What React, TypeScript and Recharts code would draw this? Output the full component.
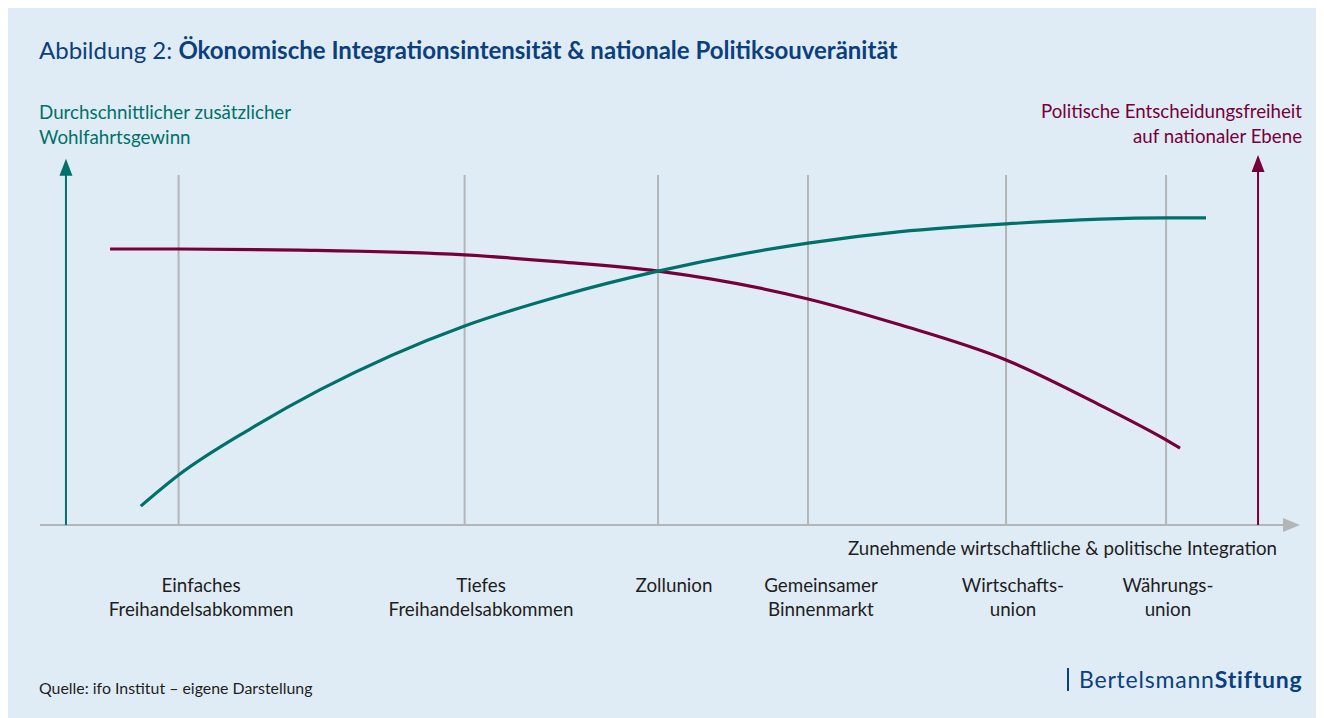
import React from "react";
import { ComposedChart, Line, XAxis, YAxis, ReferenceLine } from "recharts";

// x: integration intensity (0–100), y: level (0–100)
const stagePositions = [11.0, 33.7, 49.05, 60.95, 76.67, 89.37];
const stageLabelPositions = [12.78, 35.0, 50.32, 61.98, 77.22, 89.52];
const stageLabels = [
  "Einfaches\nFreihandelsabkommen",
  "Tiefes\nFreihandelsabkommen",
  "Zollunion",
  "Gemeinsamer\nBinnenmarkt",
  "Wirtschafts-\nunion",
  "Währungs-\nunion",
];

const welfareX = [8.0, 11.0, 16.7, 22.2, 33.7, 41.3, 49.05, 60.95, 68.3, 76.67, 89.37, 92.54];
const welfareY = [5.1, 13.5, 26.0, 36.5, 53.8, 61.9, 68.6, 76.2, 79.3, 81.4, 83.0, 83.0];

const freedomX = [5.56, 11.0, 20.6, 33.7, 41.3, 49.05, 60.95, 68.25, 76.67, 84.13, 89.37, 90.48];
const freedomY = [74.6, 74.6, 74.3, 73.0, 71.1, 68.6, 61.1, 54.1, 44.6, 32.4, 23.0, 20.8];

const welfareData = welfareX.map((x, i) => ({ x, y: welfareY[i] }));
const freedomData = freedomX.map((x, i) => ({ x, y: freedomY[i] }));

const GRID_TOP = 94.6;
const LEFT_ARROW_X = 2.06;
const RIGHT_ARROW_X = 96.67;

const TEAL = "#00706a";
const RED = "#76003a";
const GRAY = "#b3b6b9";
const BLUE = "#0b3f7e";
const BG = "#e0ecf5";
const FONT = "Lato, 'Open Sans', sans-serif";

const arrowShape = (color: string, vertical: boolean) => (props: any) => {
  const { x1, y1, x2, y2 } = props;
  if (vertical) {
    const top = Math.min(y1, y2);
    const bottom = Math.max(y1, y2);
    return (
      <g>
        <line x1={x1} x2={x1} y1={bottom} y2={top + 14} stroke={color} strokeWidth={2} />
        <polygon points={`${x1},${top} ${x1 - 6.5},${top + 17} ${x1 + 6.5},${top + 17}`} fill={color} />
      </g>
    );
  }
  const left = Math.min(x1, x2);
  const right = Math.max(x1, x2);
  return (
    <g>
      <line x1={left} x2={right - 14} y1={y1} y2={y1} stroke={color} strokeWidth={2} />
      <polygon points={`${right},${y1} ${right - 17},${y1 - 7} ${right - 17},${y1 + 7}`} fill={color} />
    </g>
  );
};

const StageTick = (props: any) => {
  const { x, y, index } = props;
  const lines = stageLabels[index].split("\n");
  return (
    <text x={x} y={y} textAnchor="middle" fontFamily={FONT} fontSize={18.8} fill="#1e1e1e">
      {lines.map((l, i) => (
        <tspan key={i} x={x} dy={i === 0 ? 58.5 : 24}>
          {l}
        </tspan>
      ))}
    </text>
  );
};

export default function App() {
  return (
    <div style={{ position: "relative", width: 1316, height: 710, background: BG, fontFamily: FONT }}>
      <div style={{ position: "absolute", left: 31, top: 28, fontSize: 24, lineHeight: "28px", color: BLUE, whiteSpace: "nowrap" }}>
        Abbildung 2: <b>Ökonomische Integrationsintensität &amp; nationale Politiksouveränität</b>
      </div>
      <div style={{ position: "absolute", left: 31, top: 91, fontSize: 18.8, lineHeight: "25px", color: TEAL, whiteSpace: "nowrap" }}>
        Durchschnittlicher zusätzlicher
        <br />
        Wohlfahrtsgewinn
      </div>
      <div style={{ position: "absolute", right: 22, top: 91, fontSize: 18.7, lineHeight: "25px", color: RED, textAlign: "right", whiteSpace: "nowrap" }}>
        Politische Entscheidungsfreiheit
        <br />
        auf nationaler Ebene
      </div>
      <ComposedChart
        width={1316}
        height={710}
        margin={{ top: 147, right: 24, bottom: 93, left: 32 }}
        style={{ position: "absolute", left: 0, top: 0 }}
      >
        <XAxis
          type="number"
          dataKey="x"
          domain={[0, 100]}
          ticks={stageLabelPositions}
          interval={0}
          axisLine={false}
          tickLine={false}
          height={100}
          tick={<StageTick />}
          allowDataOverflow
        />
        <YAxis type="number" dataKey="y" domain={[0, 100]} hide allowDataOverflow />
        {stagePositions.map((p) => (
          <ReferenceLine
            key={p}
            segment={[{ x: p, y: 0 }, { x: p, y: GRID_TOP }]}
            stroke={GRAY}
            strokeWidth={2}
            ifOverflow="visible"
          />
        ))}
        <ReferenceLine
          segment={[{ x: 0, y: 0 }, { x: 100, y: 0 }]}
          ifOverflow="visible"
          shape={arrowShape(GRAY, false)}
        />
        <ReferenceLine
          segment={[{ x: LEFT_ARROW_X, y: 0 }, { x: LEFT_ARROW_X, y: 99 }]}
          ifOverflow="visible"
          shape={arrowShape(TEAL, true)}
        />
        <ReferenceLine
          segment={[{ x: RIGHT_ARROW_X, y: 0 }, { x: RIGHT_ARROW_X, y: 100 }]}
          ifOverflow="visible"
          shape={arrowShape(RED, true)}
        />
        <Line
          data={freedomData}
          dataKey="y"
          type="monotone"
          stroke={RED}
          strokeWidth={3.2}
          dot={false}
          isAnimationActive={false}
        />
        <Line
          data={welfareData}
          dataKey="y"
          type="monotone"
          stroke={TEAL}
          strokeWidth={3.2}
          dot={false}
          isAnimationActive={false}
        />
      </ComposedChart>
      <div style={{ position: "absolute", right: 47, top: 528, fontSize: 18.7, lineHeight: "24px", color: "#1e1e1e", whiteSpace: "nowrap" }}>
        Zunehmende wirtschaftliche &amp; politische Integration
      </div>
      <div style={{ position: "absolute", left: 31, top: 671, fontSize: 15.9, lineHeight: "18px", color: "#1e1e1e", whiteSpace: "nowrap" }}>
        Quelle: ifo Institut – eigene Darstellung
      </div>
      <div style={{ position: "absolute", left: 1059, top: 660, width: 2, height: 23, background: BLUE }} />
      <div style={{ position: "absolute", left: 1071, top: 658, fontSize: 23, lineHeight: "27px", color: BLUE, letterSpacing: 0.8, whiteSpace: "nowrap" }}>
        Bertelsmann<b>Stiftung</b>
      </div>
    </div>
  );
}
